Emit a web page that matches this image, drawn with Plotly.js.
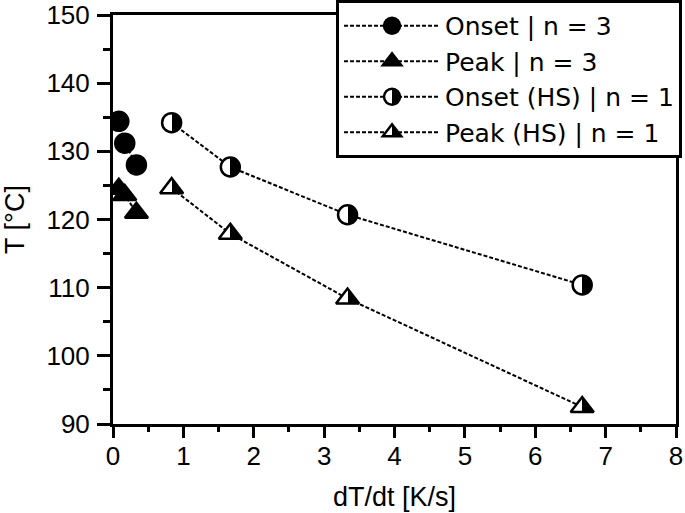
<!DOCTYPE html>
<html>
<head>
<meta charset="utf-8">
<script src="https://cdn.plot.ly/plotly-3.0.1.min.js"></script>
<style>html,body{margin:0;padding:0;background:#fff;}#chart{width:685px;height:513px;}</style>
</head>
<body>
<div id="chart"></div>
<script>
// Heating rates [K/s]
const rateN3 = [0.083, 0.167, 0.333];
const onsetN3 = [134.4, 131.2, 128.0];
const peakN3 = [124.5, 123.6, 121.0];

const rateHS = [0.833, 1.667, 3.333, 6.667];
const onsetHS = [134.2, 127.7, 120.7, 110.4];
const peakHS = [124.6, 117.9, 108.4, 92.5];

const seriesNames = ["Onset | n = 3", "Peak | n = 3", "Onset (HS) | n = 1", "Peak (HS) | n = 1"];

const xRange = [0, 8];
const yRange = [90, 150];

const FONT = '"Liberation Sans", Arial, Helvetica, sans-serif';
const LEGEND_FONT = '"DejaVu Sans", "Liberation Sans", Arial, sans-serif';
const lineStyle = {color: 'black', width: 2, dash: '4px,2px'};

function trace(x, y, name, symbol, half) {
  const marker = {
    symbol: symbol,
    size: symbol.indexOf('triangle') === 0 ? 20 : 19,
    color: half ? 'white' : 'black',
    line: {color: 'black', width: 2.5}
  };
  if (half) marker.gradient = {type: 'horizontal', color: 'black'};
  return {x: x, y: y, name: name, type: 'scatter', mode: 'lines+markers',
          line: lineStyle, marker: marker};
}

const data = [
  trace(rateN3, onsetN3, seriesNames[0], 'circle', false),
  trace(rateN3, peakN3, seriesNames[1], 'triangle-up', false),
  trace(rateHS, onsetHS, seriesNames[2], 'circle', true),
  trace(rateHS, peakHS, seriesNames[3], 'triangle-up', true),
  // empty trace so the tick-only overlay x axis exists
  {x: [], y: [], xaxis: 'x2', yaxis: 'y', type: 'scatter', mode: 'markers', showlegend: false, hoverinfo: 'skip'}
];

const tickfont = {family: FONT, size: 26, color: 'black'};

const layout = {
  width: 685, height: 513, autosize: false,
  margin: {l: 113, r: 9, t: 15, b: 89, pad: 0, autoexpand: false},
  paper_bgcolor: 'white', plot_bgcolor: 'white',
  font: {family: FONT, color: 'black'},
  showlegend: true,
  xaxis: {
    range: xRange, dtick: 1, tick0: 0,
    showline: true, linecolor: 'black', linewidth: 3, mirror: true,
    ticks: 'outside', ticklen: 7, tickwidth: 3, tickcolor: 'black',
    showgrid: false, zeroline: false, tickfont: tickfont,
    title: {text: 'dT/dt [K/s]', font: {family: FONT, size: 27, color: 'black'}, standoff: 17}
  },
  xaxis2: {
    range: xRange, dtick: 1, tick0: 0, overlaying: 'x', anchor: 'y', side: 'bottom',
    showline: false, showticklabels: false,
    ticks: 'outside', ticklen: 13, tickwidth: 3, tickcolor: 'black',
    minor: {dtick: 0.5, ticks: 'outside', ticklen: 7, tickwidth: 3, tickcolor: 'black', showgrid: false},
    showgrid: false, zeroline: false
  },
  yaxis: {
    range: yRange, dtick: 10, tick0: 90,
    showline: true, linecolor: 'black', linewidth: 3, mirror: true,
    ticks: 'outside', ticklen: 13, tickwidth: 3, tickcolor: 'black', ticklabelstandoff: 2,
    minor: {dtick: 5, ticks: 'outside', ticklen: 7, tickwidth: 3, tickcolor: 'black', showgrid: false},
    showgrid: false, zeroline: false, tickfont: tickfont,
    title: {text: 'T [°C]', font: {family: FONT, size: 27, color: 'black'}, standoff: 20}
  },
  legend: {
    x: 1.0107, y: 1.0367, xanchor: 'right', yanchor: 'top',
    bgcolor: 'white', bordercolor: 'black', borderwidth: 3,
    font: {family: LEGEND_FONT, size: 25, color: 'black'},
    itemwidth: 96
  }
};

// Turn the smooth horizontal gradient into a hard left-white / right-black split
function splitGradients() {
  document.querySelectorAll('#chart linearGradient').forEach(function (g) {
    const stops = g.querySelectorAll('stop');
    if (stops.length !== 2) return;
    const a = stops[0].cloneNode(true); a.setAttribute('offset', '50%');
    const b = stops[1].cloneNode(true); b.setAttribute('offset', '50%');
    g.insertBefore(a, stops[1]);
    g.insertBefore(b, stops[1]);
  });
}

Plotly.newPlot('chart', data, layout, {staticPlot: true, displayModeBar: false}).then(splitGradients);
</script>
</body>
</html>
